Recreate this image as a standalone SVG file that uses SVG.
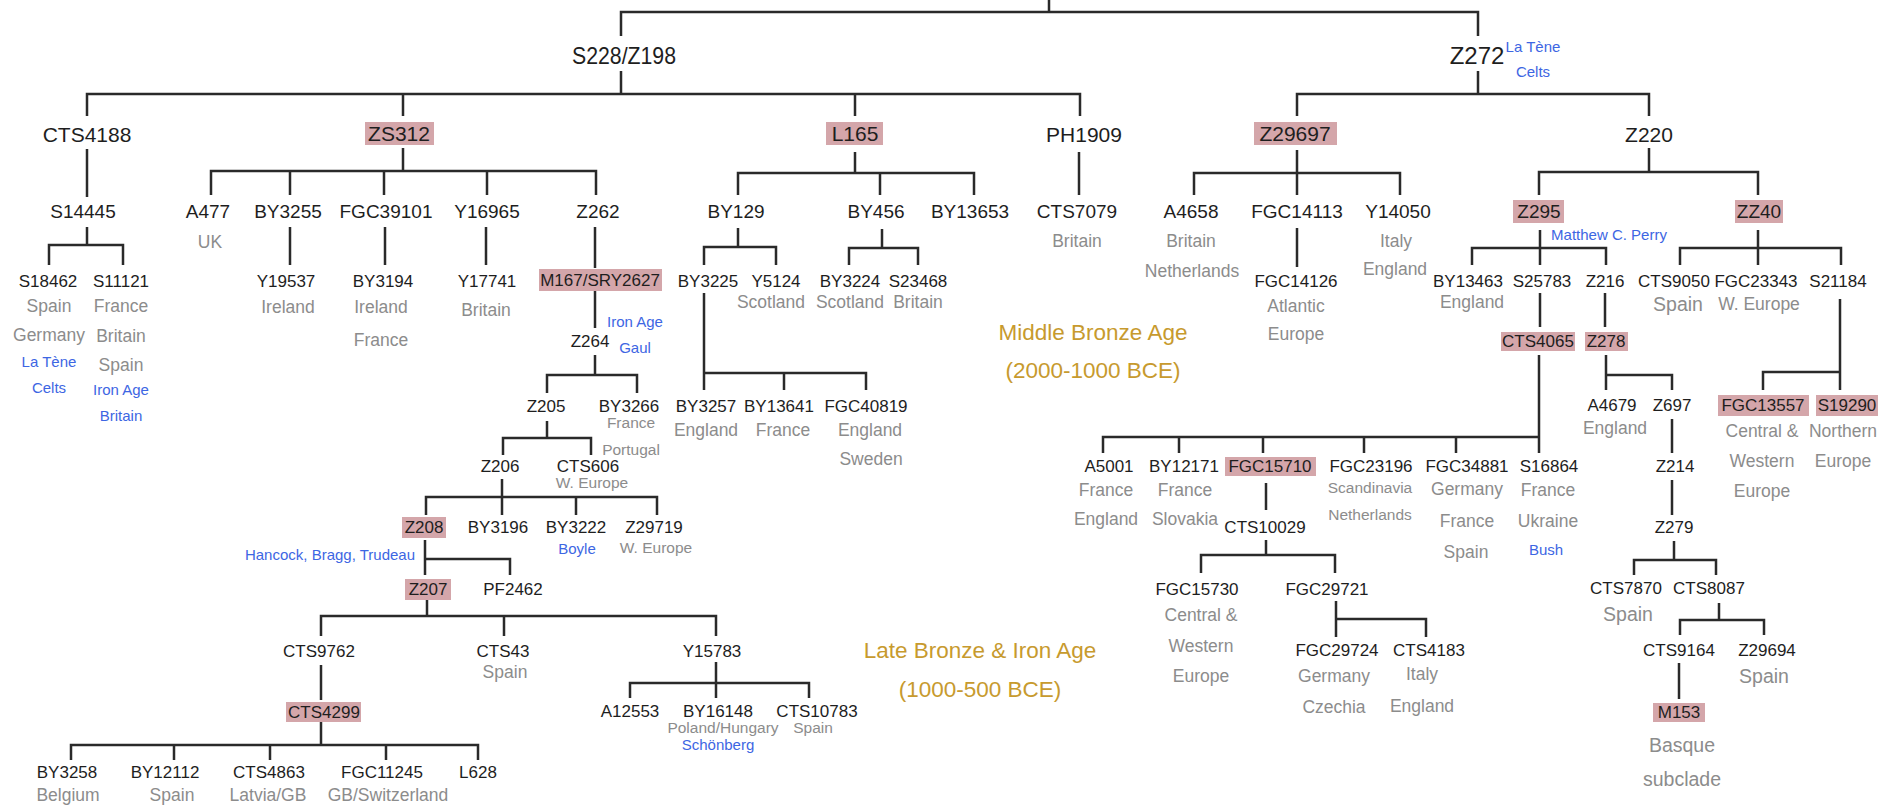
<svg xmlns="http://www.w3.org/2000/svg" width="1896" height="806" viewBox="0 0 1896 806">
<style>
  text { font-family: "Liberation Sans", Arial, sans-serif; text-anchor: middle; font-size: 17px; fill: #1e1e1e; }
  .l1 { font-size: 24px; }
  .l2 { font-size: 21px; }
  .l3 { font-size: 19px; }
  .g { font-size: 17.5px; fill: #8c8c8c; }
  .gs { font-size: 15.5px; fill: #8c8c8c; }
  .gl { font-size: 19.5px; fill: #8c8c8c; }
  .b { font-size: 15px; fill: #3d66e3; }
  .era { font-size: 22.5px; fill: #c79a2e; }
  .hl { fill: #d4a6aa; }
  #connectors path { fill: none; stroke: #2a2a2a; stroke-width: 2.5; }
</style>
<rect width="1896" height="806" fill="#ffffff"/>

<g id="connectors">
  <path d="M1049,0 V12 M621,36 V12 H1478 V36"/>
  <path d="M621,71 V94 M87,116 V94 H1080 V116 M403,94 V116 M855,94 V116"/>
  <path d="M1478,71 V94 M1297,116 V94 H1649 V116"/>
  <path d="M87,149 V197"/>
  <path d="M87,227 V245 M49,265 V245 H123 V265"/>
  <path d="M403,148 V171 M211,195 V171 H596 V195 M290,171 V195 M384,171 V195 M487,171 V195"/>
  <path d="M290,227 V265 M385,227 V265 M486,227 V265 M595,227 V268"/>
  <path d="M595,291 V328"/>
  <path d="M595,355 V375 M547,393 V375 H637 V393"/>
  <path d="M547,421 V438 M503,455 V438 H591 V455"/>
  <path d="M502,479 V515 M426,515 V497 H657 V515 M576,497 V515"/>
  <path d="M425,540 V575 M425,559 H510 V575"/>
  <path d="M427,600 V616 M321,636 V616 H716 V636 M504,616 V636"/>
  <path d="M321,665 V700"/>
  <path d="M321,722 V745 M71,760 V745 H478 V760 M174,745 V760 M270,745 V760 M386,745 V760"/>
  <path d="M716,662 V698 M630,698 V683 H809 V698"/>
  <path d="M855,152 V173 M738,195 V173 H974 V195 M880,173 V195"/>
  <path d="M1079,152 V195"/>
  <path d="M738,228 V247 M704,265 V247 H776 V265"/>
  <path d="M882,229 V248 M849,265 V248 H918 V265"/>
  <path d="M704,293 V390 M704,373 H866 V390 M784,373 V390"/>
  <path d="M1297,150 V195 M1194,195 V173 H1400 V195"/>
  <path d="M1297,228 V267"/>
  <path d="M1649,148 V172 M1539,195 V172 H1758 V195"/>
  <path d="M1540,230 V265 M1472,265 V248 H1606 V265"/>
  <path d="M1758,230 V265 M1680,265 V248 H1841 V265"/>
  <path d="M1540,293 V327 M1605,293 V327"/>
  <path d="M1539,355 V453 M1103,453 V437 H1539 M1179,437 V453 M1263,437 V453 M1364,437 V453 M1456,437 V453"/>
  <path d="M1606,355 V390 M1606,375 H1672 V390"/>
  <path d="M1672,419 V453 M1672,480 V515"/>
  <path d="M1674,541 V560 M1634,575 V560 H1716 V575"/>
  <path d="M1719,603 V620 M1680,635 V620 H1764 V635"/>
  <path d="M1679,663 V699"/>
  <path d="M1840,299 V390 M1763,390 V372 H1840"/>
  <path d="M1266,483 V510"/>
  <path d="M1266,540 V555 M1201,573 V555 H1335 V573"/>
  <path d="M1336,601 V637 M1336,619 H1426 V637"/>
</g>

<!-- level 1 -->
<g id="S228-Z198"><text class="l1" x="624" y="64" textLength="104" lengthAdjust="spacingAndGlyphs">S228/Z198</text></g>
<g id="Z272"><text class="l1" x="1477" y="64">Z272</text>
  <text class="b" x="1533" y="52">La Tène</text><text class="b" x="1533" y="77">Celts</text></g>

<!-- level 2 -->
<g id="CTS4188"><text class="l2" x="87" y="142">CTS4188</text></g>
<g id="ZS312"><rect class="hl" x="365" y="122" width="69" height="23"/><text class="l2" x="399" y="141">ZS312</text></g>
<g id="L165"><rect class="hl" x="826" y="122" width="57" height="23"/><text class="l2" x="855" y="141">L165</text></g>
<g id="PH1909"><text class="l2" x="1084" y="142">PH1909</text></g>
<g id="Z29697"><rect class="hl" x="1254" y="122" width="83" height="23"/><text class="l2" x="1295" y="141">Z29697</text></g>
<g id="Z220"><text class="l2" x="1649" y="142">Z220</text></g>

<!-- level 3 -->
<g id="S14445"><text class="l3" x="83" y="218">S14445</text></g>
<g id="A477"><text class="l3" x="208" y="218">A477</text><text class="g" x="210" y="248">UK</text></g>
<g id="BY3255"><text class="l3" x="288" y="218">BY3255</text></g>
<g id="FGC39101"><text class="l3" x="386" y="218">FGC39101</text></g>
<g id="Y16965"><text class="l3" x="487" y="218">Y16965</text></g>
<g id="Z262"><text class="l3" x="598" y="218">Z262</text></g>
<g id="BY129"><text class="l3" x="736" y="218">BY129</text></g>
<g id="BY456"><text class="l3" x="876" y="218">BY456</text></g>
<g id="BY13653"><text class="l3" x="970" y="218">BY13653</text></g>
<g id="CTS7079"><text class="l3" x="1077" y="218">CTS7079</text><text class="g" x="1077" y="247">Britain</text></g>
<g id="A4658"><text class="l3" x="1191" y="218">A4658</text><text class="g" x="1191" y="247">Britain</text><text class="g" x="1192" y="277">Netherlands</text></g>
<g id="FGC14113"><text class="l3" x="1297" y="218">FGC14113</text></g>
<g id="Y14050"><text class="l3" x="1398" y="218">Y14050</text><text class="g" x="1396" y="247">Italy</text><text class="g" x="1395" y="275">England</text></g>
<g id="Z295"><rect class="hl" x="1513" y="200" width="51" height="23"/><text class="l3" x="1539" y="218">Z295</text>
  <text class="b" x="1609" y="240">Matthew C. Perry</text></g>
<g id="ZZ40"><rect class="hl" x="1735" y="200" width="48" height="23"/><text class="l3" x="1759" y="218">ZZ40</text></g>

<!-- row 287 -->
<g id="S18462"><text x="48" y="287">S18462</text><text class="g" x="49" y="312">Spain</text><text class="g" x="49" y="341">Germany</text>
  <text class="b" x="49" y="367">La Tène</text><text class="b" x="49" y="393">Celts</text></g>
<g id="S11121"><text x="121" y="287">S11121</text><text class="g" x="121" y="312">France</text><text class="g" x="121" y="342">Britain</text><text class="g" x="121" y="371">Spain</text>
  <text class="b" x="121" y="395">Iron Age</text><text class="b" x="121" y="421">Britain</text></g>
<g id="Y19537"><text x="286" y="287">Y19537</text><text class="g" x="288" y="313">Ireland</text></g>
<g id="BY3194"><text x="383" y="287">BY3194</text><text class="g" x="381" y="313">Ireland</text><text class="g" x="381" y="346">France</text></g>
<g id="Y17741"><text x="487" y="287">Y17741</text><text class="g" x="486" y="316">Britain</text></g>
<g id="M167-SRY2627"><rect class="hl" x="539" y="269" width="123" height="22"/><text x="600" y="286">M167/SRY2627</text>
  <text class="b" x="635" y="327">Iron Age</text><text class="b" x="635" y="353">Gaul</text></g>
<g id="BY3225"><text x="708" y="287">BY3225</text></g>
<g id="Y5124"><text x="776" y="287">Y5124</text><text class="g" x="771" y="308">Scotland</text></g>
<g id="BY3224"><text x="850" y="287">BY3224</text><text class="g" x="850" y="308">Scotland</text></g>
<g id="S23468"><text x="918" y="287">S23468</text><text class="g" x="918" y="308">Britain</text></g>
<g id="FGC14126"><text x="1296" y="287">FGC14126</text><text class="g" x="1296" y="312">Atlantic</text><text class="g" x="1296" y="340">Europe</text></g>
<g id="BY13463"><text x="1468" y="287">BY13463</text><text class="g" x="1472" y="308">England</text></g>
<g id="S25783"><text x="1542" y="287">S25783</text></g>
<g id="Z216"><text x="1605" y="287">Z216</text></g>
<g id="CTS9050"><text x="1674" y="287">CTS9050</text><text class="gl" x="1678" y="311">Spain</text></g>
<g id="FGC23343"><text x="1756" y="287">FGC23343</text><text class="g" x="1759" y="310">W. Europe</text></g>
<g id="S21184"><text x="1838" y="287">S21184</text></g>

<!-- deeper rows, left branch -->
<g id="Z264"><text x="590" y="347">Z264</text></g>
<g id="Z205"><text x="546" y="412">Z205</text></g>
<g id="BY3266"><text x="629" y="412">BY3266</text><text class="gs" x="631" y="428">France</text><text class="gs" x="631" y="455">Portugal</text></g>
<g id="Z206"><text x="500" y="472">Z206</text></g>
<g id="CTS606"><text x="588" y="472">CTS606</text><text class="gs" x="592" y="488">W. Europe</text></g>
<g id="Z208"><rect class="hl" x="402" y="517" width="44" height="21"/><text x="424" y="533">Z208</text>
  <text class="b" x="330" y="560">Hancock, Bragg, Trudeau</text></g>
<g id="BY3196"><text x="498" y="533">BY3196</text></g>
<g id="BY3222"><text x="576" y="533">BY3222</text><text class="b" x="577" y="554">Boyle</text></g>
<g id="Z29719"><text x="654" y="533">Z29719</text><text class="gs" x="656" y="553">W. Europe</text></g>
<g id="Z207"><rect class="hl" x="405" y="579" width="46" height="21"/><text x="428" y="595">Z207</text></g>
<g id="PF2462"><text x="513" y="595">PF2462</text></g>
<g id="CTS9762"><text x="319" y="657">CTS9762</text></g>
<g id="CTS43"><text x="503" y="657">CTS43</text><text class="g" x="505" y="678">Spain</text></g>
<g id="Y15783"><text x="712" y="657">Y15783</text></g>
<g id="CTS4299"><rect class="hl" x="286" y="702" width="75" height="20"/><text x="324" y="718">CTS4299</text></g>
<g id="A12553"><text x="630" y="717">A12553</text></g>
<g id="BY16148"><text x="718" y="717">BY16148</text><text class="gs" x="723" y="733">Poland/Hungary</text>
  <text class="b" x="718" y="750">Schönberg</text></g>
<g id="CTS10783"><text x="817" y="717">CTS10783</text><text class="gs" x="813" y="733">Spain</text></g>
<g id="BY3258"><text x="67" y="778">BY3258</text><text class="g" x="68" y="801">Belgium</text></g>
<g id="BY12112"><text x="165" y="778">BY12112</text><text class="g" x="172" y="801">Spain</text></g>
<g id="CTS4863"><text x="269" y="778">CTS4863</text><text class="g" x="268" y="801">Latvia/GB</text></g>
<g id="FGC11245"><text x="382" y="778">FGC11245</text><text class="g" x="388" y="801">GB/Switzerland</text></g>
<g id="L628"><text x="478" y="778">L628</text></g>

<!-- L165 branch -->
<g id="BY3257"><text x="706" y="412">BY3257</text><text class="g" x="706" y="436">England</text></g>
<g id="BY13641"><text x="779" y="412">BY13641</text><text class="g" x="783" y="436">France</text></g>
<g id="FGC40819"><text x="866" y="412">FGC40819</text><text class="g" x="870" y="436">England</text><text class="g" x="871" y="465">Sweden</text></g>

<!-- Z220 branch -->
<g id="CTS4065"><rect class="hl" x="1501" y="332" width="74" height="19"/><text x="1538" y="347">CTS4065</text></g>
<g id="Z278"><rect class="hl" x="1585" y="332" width="43" height="19"/><text x="1606" y="347">Z278</text></g>
<g id="A4679"><text x="1612" y="411">A4679</text><text class="g" x="1615" y="434">England</text></g>
<g id="Z697"><text x="1672" y="411">Z697</text></g>
<g id="FGC13557"><rect class="hl" x="1718" y="395" width="91" height="21"/><text x="1763" y="411">FGC13557</text>
  <text class="g" x="1762" y="437">Central &amp;</text><text class="g" x="1762" y="467">Western</text><text class="g" x="1762" y="497">Europe</text></g>
<g id="S19290"><rect class="hl" x="1816" y="395" width="62" height="21"/><text x="1847" y="411">S19290</text>
  <text class="g" x="1843" y="437">Northern</text><text class="g" x="1843" y="467">Europe</text></g>
<g id="A5001"><text x="1109" y="472">A5001</text><text class="g" x="1106" y="496">France</text><text class="g" x="1106" y="525">England</text></g>
<g id="BY12171"><text x="1184" y="472">BY12171</text><text class="g" x="1185" y="496">France</text><text class="g" x="1185" y="525">Slovakia</text></g>
<g id="FGC15710"><rect class="hl" x="1225" y="457" width="91" height="19"/><text x="1270" y="472">FGC15710</text></g>
<g id="FGC23196"><text x="1371" y="472">FGC23196</text><text class="gs" x="1370" y="493">Scandinavia</text><text class="gs" x="1370" y="520">Netherlands</text></g>
<g id="FGC34881"><text x="1467" y="472">FGC34881</text><text class="g" x="1467" y="495">Germany</text><text class="g" x="1467" y="527">France</text><text class="g" x="1466" y="558">Spain</text></g>
<g id="S16864"><text x="1549" y="472">S16864</text><text class="g" x="1548" y="496">France</text><text class="g" x="1548" y="527">Ukraine</text>
  <text class="b" x="1546" y="555">Bush</text></g>
<g id="Z214"><text x="1675" y="472">Z214</text></g>
<g id="CTS10029"><text x="1265" y="533">CTS10029</text></g>
<g id="Z279"><text x="1674" y="533">Z279</text></g>
<g id="FGC15730"><text x="1197" y="595">FGC15730</text><text class="g" x="1201" y="621">Central &amp;</text><text class="g" x="1201" y="652">Western</text><text class="g" x="1201" y="682">Europe</text></g>
<g id="FGC29721"><text x="1327" y="595">FGC29721</text></g>
<g id="CTS7870"><text x="1626" y="594">CTS7870</text><text class="gl" x="1628" y="621">Spain</text></g>
<g id="CTS8087"><text x="1709" y="594">CTS8087</text></g>
<g id="FGC29724"><text x="1337" y="656">FGC29724</text><text class="g" x="1334" y="682">Germany</text><text class="g" x="1334" y="713">Czechia</text></g>
<g id="CTS4183"><text x="1429" y="656">CTS4183</text><text class="g" x="1422" y="680">Italy</text><text class="g" x="1422" y="712">England</text></g>
<g id="CTS9164"><text x="1679" y="656">CTS9164</text></g>
<g id="Z29694"><text x="1767" y="656">Z29694</text><text class="gl" x="1764" y="683">Spain</text></g>
<g id="M153"><rect class="hl" x="1653" y="703" width="52" height="19"/><text x="1679" y="718">M153</text>
  <text class="gl" x="1682" y="752">Basque</text><text class="gl" x="1682" y="786">subclade</text></g>

<!-- era captions -->
<g id="era-middle-bronze"><text class="era" x="1093" y="340">Middle Bronze Age</text><text class="era" x="1093" y="378">(2000-1000 BCE)</text></g>
<g id="era-late-bronze-iron"><text class="era" x="980" y="658">Late Bronze &amp; Iron Age</text><text class="era" x="980" y="697">(1000-500 BCE)</text></g>
</svg>
